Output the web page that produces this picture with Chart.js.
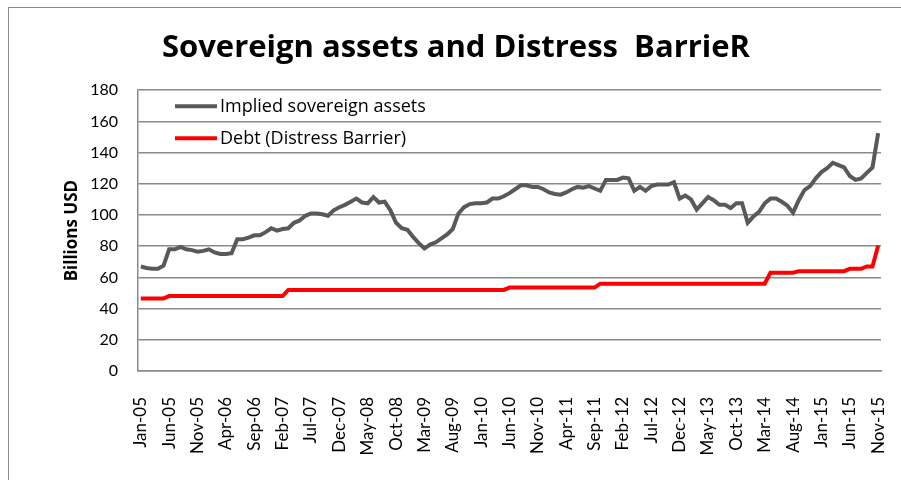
<!DOCTYPE html>
<html lang="en">
<head>
  <meta charset="UTF-8">
  <title>Sovereign assets and Distress BarrieR</title>
  <script src="https://cdn.jsdelivr.net/npm/chart.js"></script>
  <style>
    html, body { margin: 0; padding: 0; background: #fff; }
    #wrap { position: relative; width: 901px; height: 480px; overflow: hidden; }
  </style>
</head>
<body>
  <div id="wrap">
    <canvas id="grafico" width="901" height="480"></canvas>
  </div>

  <script>
    // months shown on the axis, Jan-05 .. Nov-15 (monthly)
    const meses = ['Jan', 'Feb', 'Mar', 'Apr', 'May', 'Jun', 'Jul', 'Aug', 'Sep', 'Oct', 'Nov', 'Dec'];
    const anios = ['05', '06', '07', '08', '09', '10', '11', '12', '13', '14', '15'];

    // Implied sovereign assets (billions USD)
    const activos = [
      67, 66, 65.5, 65.5, 67.5, 78, 78, 79.5, 78, 77.5, 76.5, 77,
      78, 76, 75, 75, 75.5, 84.5, 84.5, 85.5, 87, 87, 89, 91.5,
      90, 91, 91.5, 95, 96.5, 99.5, 101, 101, 100.5, 99.5, 103, 105,
      106.5, 108.5, 110.5, 108, 107.5, 111.5, 108, 108.5, 103, 95, 91.5, 90.5,
      86, 82, 78.5, 81, 82.5, 85, 87.5, 91, 101, 105, 107, 107.5,
      107.5, 108, 110.5, 110.5, 112, 114, 116.5, 119, 119, 118, 118, 116.5,
      114.5, 113.5, 113, 114.5, 116.5, 118, 117.5, 118.5, 117, 115.5, 122.5, 122.5,
      122.5, 124, 123.5, 115.5, 118, 115.5, 118.5, 119.5, 119.5, 119.5, 121, 110.5,
      112.5, 110, 103.5, 107.5, 111.5, 109.5, 106.5, 106.5, 104.5, 107.5, 107.5, 95,
      99, 102, 107.5, 110.5, 110.5, 108.5, 106, 101.5, 109.5, 116, 118.5, 123.5,
      127.5, 130, 133.5, 132, 130.5, 125, 122.5, 123.5, 127, 130.5, 152.5
    ];

    // Debt (Distress Barrier), billions USD
    const deuda = [
      46.5, 46.5, 46.5, 46.5, 46.5, 48, 48, 48, 48, 48, 48, 48,
      48, 48, 48, 48, 48, 48, 48, 48, 48, 48, 48, 48,
      48, 48, 52, 52, 52, 52, 52, 52, 52, 52, 52, 52,
      52, 52, 52, 52, 52, 52, 52, 52, 52, 52, 52, 52,
      52, 52, 52, 52, 52, 52, 52, 52, 52, 52, 52, 52,
      52, 52, 52, 52, 52, 53.5, 53.5, 53.5, 53.5, 53.5, 53.5, 53.5,
      53.5, 53.5, 53.5, 53.5, 53.5, 53.5, 53.5, 53.5, 53.5, 56, 56, 56,
      56, 56, 56, 56, 56, 56, 56, 56, 56, 56, 56, 56,
      56, 56, 56, 56, 56, 56, 56, 56, 56, 56, 56, 56,
      56, 56, 56, 63, 63, 63, 63, 63, 64, 64, 64, 64,
      64, 64, 64, 64, 64, 65.5, 65.5, 65.5, 67, 67, 80.5
    ];

    const etiquetas = [];
    anios.forEach(a => meses.forEach(m => etiquetas.push(m + '-' + a)));
    etiquetas.length = activos.length;

    const yTicks = [0, 20, 40, 60, 80, 100, 120, 140, 160, 180];

    // leyenda dentro del area del grafico (arriba a la izquierda)
    const leyendaInterna = {
      id: 'leyendaInterna',
      afterDatasetsDraw(chart) {
        const { ctx, chartArea } = chart;
        ctx.save();
        chart.data.datasets.forEach((ds, i) => {
          const y = chartArea.top + 16 + i * 32;
          const x = chartArea.left + 37;
          ctx.strokeStyle = ds.borderColor;
          ctx.lineWidth = 4;
          ctx.beginPath();
          ctx.moveTo(x, y);
          ctx.lineTo(x + 42, y);
          ctx.stroke();
          ctx.fillStyle = '#000';
          ctx.font = '18px "Open Sans"';
          ctx.textBaseline = 'middle';
          ctx.fillText(ds.label, x + 45, y + 1);
        });
        ctx.restore();
      }
    };

    // marco del grafico (borde gris arriba / izquierda)
    const marco = {
      id: 'marco',
      beforeDraw(chart) {
        const ctx = chart.ctx;
        ctx.save();
        ctx.fillStyle = '#fff';
        ctx.fillRect(0, 0, chart.width, chart.height);
        ctx.strokeStyle = '#8c8c8c';
        ctx.lineWidth = 1;
        ctx.strokeRect(8.5, 7.5, 1000, 1000);
        ctx.restore();
      }
    };

    const ctx = document.getElementById('grafico').getContext('2d');
    const grafico = new Chart(ctx, {
      type: 'line',
      data: {
        labels: etiquetas,
        datasets: [{
          label: 'Implied sovereign assets',
          data: activos,
          borderColor: '#595959',
          borderWidth: 4,
          pointRadius: 0,
          tension: 0
        }, {
          label: 'Debt (Distress Barrier)',
          data: deuda,
          borderColor: '#ff0000',
          borderWidth: 4,
          pointRadius: 0,
          tension: 0
        }]
      },
      options: {
        responsive: false,
        animation: false,
        layout: { padding: { left: 31, right: 20, top: 0, bottom: 0 } },
        plugins: {
          legend: { display: false },
          tooltip: { enabled: false },
          title: {
            display: true,
            text: 'Sovereign assets and Distress  BarrieR',
            color: '#000',
            font: { family: 'Open Sans', size: 31, weight: 'bold' },
            padding: { top: 30, bottom: 23 }
          }
        },
        scales: {
          x: {
            offset: true,
            grid: { display: false },
            border: { display: true, color: '#8a8a8a', width: 1.5 },
            ticks: {
              autoSkip: false,
              maxRotation: 90,
              minRotation: 90,
              padding: 18,
              color: '#000',
              font: { family: 'Lato', size: 17 },
              callback: (v, i) => (i % 5 === 0 ? etiquetas[i] : '')
            },
            afterFit: s => {
              s.height = 109;
              s.paddingLeft = 0;
              s.paddingRight = 0;
            }
          },
          y: {
            min: 0,
            max: 180,
            afterBuildTicks: s => { s.ticks = yTicks.map(v => ({ value: v })); },
            grid: { color: '#8a8a8a', lineWidth: 1.5, drawTicks: false },
            border: { display: true, color: '#8a8a8a', width: 1.5 },
            ticks: {
              padding: 20,
              color: '#000',
              font: { family: 'Lato', size: 16 }
            },
            title: {
              display: true,
              text: 'Billions USD',
              color: '#000',
              font: { family: 'Open Sans', size: 17, weight: 'bold' },
              padding: 31
            },
            afterFit: s => { s.width = 107; }
          }
        }
      },
      plugins: [marco, leyendaInterna]
    });
  </script>
</body>
</html>
